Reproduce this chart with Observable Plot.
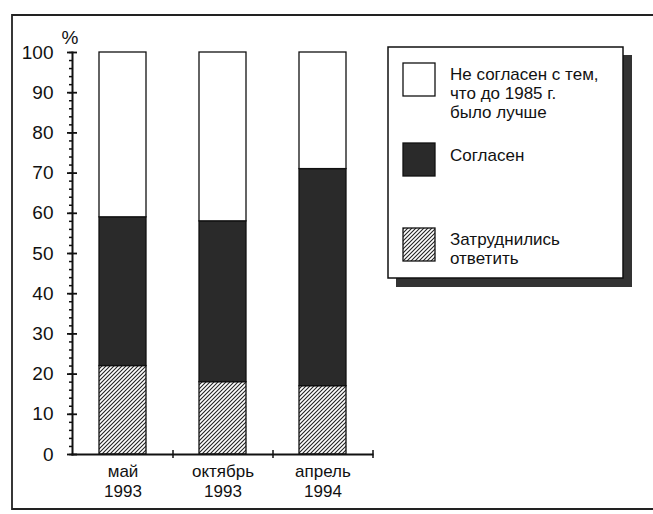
<!DOCTYPE html>
<html>
<head>
<meta charset="utf-8">
<script src="https://cdn.jsdelivr.net/npm/d3@7"></script>
<script src="https://cdn.jsdelivr.net/npm/@observablehq/plot@0.6"></script>
<style>
  html, body { margin: 0; padding: 0; background: #fff; }
  svg { display: block; }
</style>
</head>
<body>
<div id="chart"></div>
<script>
// ---- data ----
const periods = ["май 1993", "октябрь 1993", "апрель 1994"];
const seriesNames = ["Затруднились ответить", "Согласен", "Не согласен с тем, что до 1985 г. было лучше"];
const hardToSay = [22, 18, 17];
const agree = [37, 40, 54];
const disagree = [41, 42, 29];
const yTicks = [0, 10, 20, 30, 40, 50, 60, 70, 80, 90, 100];
const legendLabels = [
  ["Не согласен с тем,", "что до 1985 г.", "было лучше"],
  ["Согласен"],
  ["Затруднились", "ответить"]
];
const legendKeys = [seriesNames[2], seriesNames[1], seriesNames[0]];

const valuesBySeries = [hardToSay, agree, disagree];
const table = [];
seriesNames.forEach((s, si) => {
  periods.forEach((p, pi) => table.push({period: p, series: s, value: valuesBySeries[si][pi]}));
});

const fills = ["url(#hatch)", "#2a2a2a", "#ffffff"];
const font = "'Liberation Sans', Arial, sans-serif";

const plot = Plot.plot({
  width: 653,
  height: 514,
  marginLeft: 72,
  marginRight: 281,
  marginTop: 52,
  marginBottom: 60,
  style: {fontFamily: font, fontSize: "17px", color: "#111", background: "white"},
  x: {domain: periods, paddingInner: 0.53, paddingOuter: 0.265, label: null},
  y: {domain: [0, 100], label: null},
  color: {domain: seriesNames, range: fills},
  marks: [
    Plot.barY(table, {x: "period", y: "value", fill: "series", stroke: "#111", strokeWidth: 1.3}),
    Plot.frame({anchor: "left", stroke: "#111", strokeWidth: 2}),
    Plot.frame({anchor: "bottom", stroke: "#111", strokeWidth: 2}),
    // minor ticks
    Plot.axisY({ticks: d3.range(0, 101, 2), tickSize: 3, text: null, strokeWidth: 1.5}),
    // major ticks (left part + labels)
    Plot.axisY({ticks: yTicks, tickSize: 5, tickPadding: 14, fontSize: 19, strokeWidth: 1.8, tickFormat: d => String(d)}),
    // major ticks (right part)
    Plot.axisY({ticks: yTicks, tickSize: 5, dx: 5, text: null, strokeWidth: 1.8}),
    // x-axis boundary ticks
    Plot.axisX({tickSize: 4, dx: 50, text: null, strokeWidth: 1.5}),
    Plot.axisX({tickSize: 4, dx: 50, dy: -4, text: null, strokeWidth: 1.5}),
    // x labels
    Plot.axisX({tickSize: 0, tickPadding: 9, fontSize: 17, lineHeight: 1.15, tickFormat: d => d.replace(" ", "\n")})
  ]
});

const svg = d3.select(plot);
const defs = svg.insert("defs", ":first-child");
const pat = defs.append("pattern")
  .attr("id", "hatch")
  .attr("patternUnits", "userSpaceOnUse")
  .attr("width", 4).attr("height", 4);
pat.append("rect").attr("width", 4).attr("height", 4).attr("fill", "#fff");
pat.append("path")
  .attr("d", "M-1,1 l2,-2 M0,4 l4,-4 M3,5 l2,-2")
  .attr("stroke", "#222").attr("stroke-width", 1.1);

// outer frame (open to the right)
svg.append("path")
  .attr("d", "M653,15 H12 V509 H653")
  .attr("fill", "none").attr("stroke", "#222").attr("stroke-width", 1.8);

// percent sign
svg.append("text").attr("x", 70).attr("y", 44)
  .attr("text-anchor", "middle")
  .attr("font-family", font).attr("font-size", 19).attr("fill", "#111")
  .text("%");

// legend
const lg = svg.append("g");
lg.append("rect").attr("x", 396).attr("y", 55).attr("width", 236).attr("height", 232).attr("fill", "#333");
lg.append("rect").attr("x", 388).attr("y", 47).attr("width", 235).attr("height", 231)
  .attr("fill", "#fff").attr("stroke", "#111").attr("stroke-width", 1.5);
const swatchY = [63, 143, 228];
const textY = [[74, 93, 112], [155], [239, 258]];
legendKeys.forEach((k, i) => {
  lg.append("rect").attr("x", 403).attr("y", swatchY[i]).attr("width", 32).attr("height", 33)
    .attr("fill", fills[seriesNames.indexOf(k)]).attr("stroke", "#111").attr("stroke-width", 1.3);
  legendLabels[i].forEach((line, j) => {
    lg.append("text").attr("x", 450).attr("y", textY[i][j])
      .attr("dy", "0.35em")
      .attr("text-anchor", "start")
      .attr("font-family", font).attr("font-size", 17).attr("fill", "#111")
      .text(line);
  });
});

document.getElementById("chart").appendChild(plot);
</script>
</body>
</html>
